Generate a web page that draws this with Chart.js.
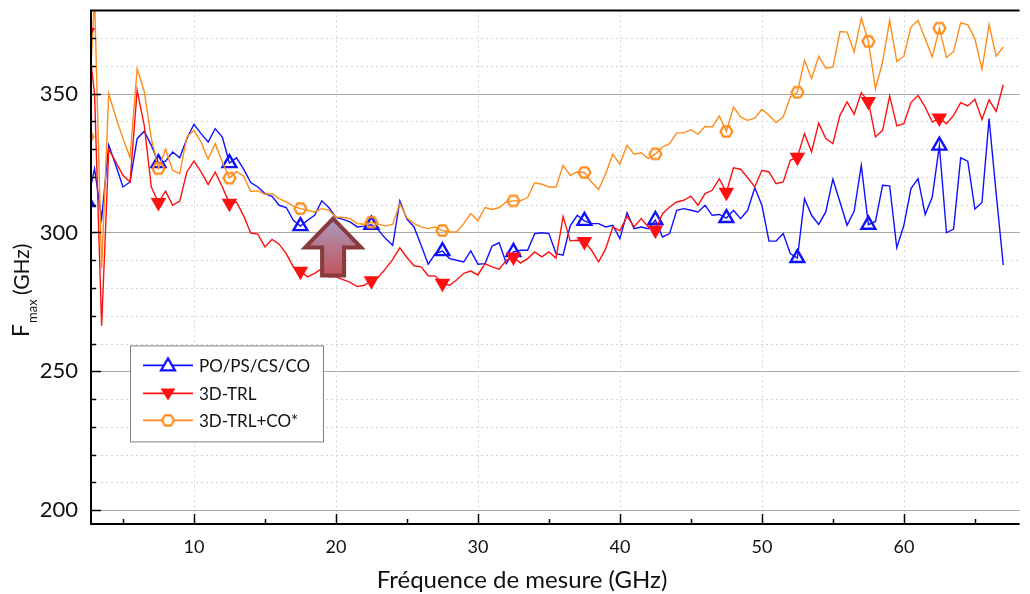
<!DOCTYPE html>
<html>
<head>
<meta charset="utf-8">
<script src="https://cdn.jsdelivr.net/npm/chart.js@4.4.0/dist/chart.umd.min.js"></script>
<style>
  html, body { margin: 0; padding: 0; background: #fff; }
  #wrap { width: 1030px; height: 594px; }
</style>
</head>
<body>
<div id="wrap"><canvas id="fmaxChart" width="1030" height="594"></canvas></div>
<script>
// frequencies (GHz), one row = 5 GHz
const freq = [
  2.5, 3, 3.5, 4, 4.5, 5, 5.5, 6, 6.5, 7,
  7.5, 8, 8.5, 9, 9.5, 10, 10.5, 11, 11.5, 12,
  12.5, 13, 13.5, 14, 14.5, 15, 15.5, 16, 16.5, 17,
  17.5, 18, 18.5, 19, 19.5, 20, 20.5, 21, 21.5, 22,
  22.5, 23, 23.5, 24, 24.5, 25, 25.5, 26, 26.5, 27,
  27.5, 28, 28.5, 29, 29.5, 30, 30.5, 31, 31.5, 32,
  32.5, 33, 33.5, 34, 34.5, 35, 35.5, 36, 36.5, 37,
  37.5, 38, 38.5, 39, 39.5, 40, 40.5, 41, 41.5, 42,
  42.5, 43, 43.5, 44, 44.5, 45, 45.5, 46, 46.5, 47,
  47.5, 48, 48.5, 49, 49.5, 50, 50.5, 51, 51.5, 52,
  52.5, 53, 53.5, 54, 54.5, 55, 55.5, 56, 56.5, 57,
  57.5, 58, 58.5, 59, 59.5, 60, 60.5, 61, 61.5, 62,
  62.5, 63, 63.5, 64, 64.5, 65, 65.5, 66, 66.5, 67
];

const poPsCsCo = [
  311, 323, 305, 331.4, 324.2, 316.4, 318.2, 333.8, 336.5, 331.4,
  325, 325.7, 329, 326.9, 333.8, 339, 335.6, 332.6, 337.4, 334.4,
  325, 326.9, 322.8, 318, 316.4, 314, 313, 309.8, 309, 304.4,
  302.3, 304.4, 306.2, 311.4, 309, 305.4, 304.7, 303.8, 302, 302.3,
  302.8, 300.8, 297.8, 295.4, 311.4, 304.8, 302, 295.4, 288.6, 292.4,
  293.3, 290.6, 290, 289.4, 293.4, 288.6, 288.8, 295.1, 296.3, 288.8,
  293, 293.6, 293.6, 299.6, 299.9, 299.6, 292.4, 291.8, 302.4, 306.2,
  304.2, 303.2, 303.2, 302, 302.6, 297.8, 307.1, 301.4, 302, 301.4,
  304.5, 298.4, 299.6, 308, 308.6, 308, 307.4, 309.8, 306.2, 306.5,
  305.2, 308, 305, 308, 316.1, 309.8, 296.9, 296.9, 299.6, 292.4,
  290.8, 312.2, 306.2, 302.9, 307.4, 319.2, 311, 302.6, 307.7, 324.2,
  302.8, 304, 317, 316.8, 294.5, 302.6, 315.8, 319.4, 306.5, 312.8,
  331.3, 299.9, 301.2, 326.9, 325.7, 308.4, 310.8, 341, 314, 288.3
];

const trl3d = [
  372, 350, 266.4, 330, 325.4, 320.6, 318.2, 351.2, 338.6, 316.4,
  310.8, 314.9, 309.8, 311.3, 321.8, 325.7, 321.8, 317.3, 321.8, 316.4,
  310.5, 311, 306, 299.8, 299.4, 294.8, 297.5, 295.8, 292.4, 287.6,
  286, 284, 285.3, 287, 284, 284, 283, 282, 280.5, 281,
  282.6, 284, 287, 290.3, 294.5, 291, 288, 287.6, 284.4, 284.3,
  281.7, 281, 282.9, 285.3, 286.1, 284.7, 288.8, 287.6, 286.8, 290,
  291.2, 289, 290.6, 293, 291.2, 293, 290.8, 305.7, 297, 297.2,
  296.8, 293.6, 289.4, 294.2, 302, 300.6, 305.9, 302, 305, 302,
  300.9, 306.8, 309.2, 311, 311.6, 313.1, 309.8, 314, 315.2, 319.4,
  314.5, 323.3, 322.8, 319.7, 316.4, 322.4, 321.8, 317.6, 318.2, 326,
  327.1, 335.6, 329, 339.4, 333.8, 332, 342.2, 347, 342.6, 350.4,
  347.2, 334.4, 336.8, 349.2, 338.4, 339.2, 346.8, 349.4, 345.2, 339.8,
  341.2, 339.2, 342.2, 346.8, 345.6, 348, 340.7, 347.8, 343.6, 353.2
];

const trl3dCo = [
  334.5, 385, 287, 350, 341.5, 334, 327, 359, 350.8, 333.8,
  323, 330, 322.4, 321.2, 334.4, 336.8, 332.6, 326.4, 332, 325.4,
  319.6, 322, 320.3, 314.8, 315, 313.8, 314, 312.2, 311, 309.5,
  308.6, 308, 307.4, 308.6, 308, 305.6, 305.4, 305, 303.2, 303,
  303.7, 303, 302.3, 303, 310.4, 305.3, 303.2, 302, 301.4, 302,
  300.7, 300.2, 300.2, 303.2, 306.8, 304.2, 309, 308.3, 309, 311,
  311.4, 311.4, 312.6, 317.9, 317.4, 316.4, 316.4, 324.2, 320.6, 321.8,
  321.6, 318.2, 315.5, 321.2, 328.2, 324.6, 331.4, 328.2, 328.7, 326.6,
  328.3, 330.8, 332, 335.9, 335.9, 337, 335.4, 338.2, 338, 342,
  336.4, 345.2, 341.6, 340.4, 341.2, 344.4, 342.2, 339.6, 341.6, 348.8,
  350.5, 362, 355.4, 363.5, 359.2, 359.6, 372.4, 372.2, 365, 377.2,
  368.8, 351.8, 361.4, 376.4, 361.6, 363.5, 374, 376.4, 369.8, 363.2,
  373.6, 363, 365.2, 375.5, 374.8, 369.8, 358.8, 374.9, 363.5, 366.8
];

const seriesNames = ['PO/PS/CS/CO', '3D-TRL', '3D-TRL+CO*'];
const xTicks = [10, 20, 30, 40, 50, 60];
const xMinorTicks = [5, 15, 25, 35, 45, 55, 65];
const yTicks = [200, 210, 220, 230, 240, 250, 260, 270, 280, 290, 300, 310, 320, 330, 340, 350, 360, 370];
const yLabels = [200, 250, 300, 350];
const xTitle = 'Fréquence de mesure (GHz)';

const FONT = 'Lato, "Open Sans", sans-serif';
const BLUE = '#1010ff';
const RED = '#ff1010';
const ORANGE = '#ff8c1a';
const MARK_EVERY = 10;

// small hexagon used as marker for the orange series
function hexMarker(color, r, lw) {
  const c = document.createElement('canvas');
  const s = Math.ceil(2 * r + lw + 2);
  c.width = s; c.height = s;
  const g = c.getContext('2d');
  g.beginPath();
  for (let k = 0; k < 6; k++) {
    const a = Math.PI / 3 * k;
    g.lineTo(s / 2 + r * Math.cos(a), s / 2 + r * Math.sin(a));
  }
  g.closePath();
  g.strokeStyle = color;
  g.lineWidth = lw;
  g.stroke();
  return c;
}
const hexImg = hexMarker(ORANGE, 6, 2.2);

function toPoints(values) {
  return freq.map((f, i) => ({ x: f, y: values[i] }));
}
function markerRadius(r) {
  return ctx => (ctx.dataIndex % MARK_EVERY === 0 ? r : 0);
}

// grid lines under the curves
const gridPlugin = {
  id: 'gridPlugin',
  beforeDatasetsDraw(chart) {
    const { ctx, chartArea: a, scales: { x, y } } = chart;
    ctx.save();
    ctx.lineWidth = 1;
    yTicks.forEach(v => {
      const py = Math.round(y.getPixelForValue(v)) + 0.5;
      if (v % 50 === 0) {
        ctx.strokeStyle = '#a8a8a8';
        ctx.setLineDash([]);
      } else {
        ctx.strokeStyle = '#d4d4d4';
        ctx.setLineDash([2, 3]);
      }
      ctx.beginPath(); ctx.moveTo(a.left, py); ctx.lineTo(a.right, py); ctx.stroke();
    });
    ctx.strokeStyle = '#d4d4d4';
    ctx.setLineDash([2, 3]);
    xTicks.forEach(v => {
      const px = Math.round(x.getPixelForValue(v)) + 0.5;
      ctx.beginPath(); ctx.moveTo(px, a.top); ctx.lineTo(px, a.bottom); ctx.stroke();
    });
    ctx.restore();
  }
};

// arrow, legend, axes, titles
const decorPlugin = {
  id: 'decorPlugin',
  afterDatasetsDraw(chart) {
    const { ctx, chartArea: a, scales: { x, y } } = chart;
    ctx.save();

    // arrow
    const cx = x.getPixelForValue(19.8);
    const ty = y.getPixelForValue(305);
    const grad = ctx.createLinearGradient(0, ty, 0, ty + 58);
    grad.addColorStop(0, '#a99bc0');
    grad.addColorStop(1, '#c4525a');
    ctx.beginPath();
    ctx.moveTo(cx, ty);
    ctx.lineTo(cx + 28, ty + 29);
    ctx.lineTo(cx + 11, ty + 29);
    ctx.lineTo(cx + 11, ty + 57);
    ctx.lineTo(cx - 11, ty + 57);
    ctx.lineTo(cx - 11, ty + 29);
    ctx.lineTo(cx - 28, ty + 29);
    ctx.closePath();
    ctx.fillStyle = grad;
    ctx.fill();
    ctx.lineJoin = 'miter';
    ctx.lineWidth = 4;
    ctx.strokeStyle = '#883a3c';
    ctx.stroke();

    // legend
    const lx = a.left + 39, ly = a.top + 335;
    ctx.fillStyle = '#fff';
    ctx.fillRect(lx, ly, 193, 96);
    ctx.lineWidth = 1;
    ctx.strokeStyle = '#808080';
    ctx.strokeRect(lx + 0.5, ly + 0.5, 193, 96);
    ctx.font = '17px ' + FONT;
    ctx.textBaseline = 'middle';
    const rows = [ly + 20, ly + 48, ly + 75];
    chart.data.datasets.forEach((ds, i) => {
      const ry = rows[i];
      ctx.strokeStyle = ds.borderColor;
      ctx.lineWidth = 1.6;
      ctx.beginPath(); ctx.moveTo(lx + 13, ry); ctx.lineTo(lx + 63, ry); ctx.stroke();
      const mx = lx + 38;
      if (i === 0) {
        ctx.lineWidth = 2.2;
        ctx.beginPath();
        ctx.moveTo(mx, ry - 7); ctx.lineTo(mx + 7, ry + 5); ctx.lineTo(mx - 7, ry + 5);
        ctx.closePath(); ctx.fillStyle = '#fff'; ctx.fill(); ctx.stroke();
      } else if (i === 1) {
        ctx.beginPath();
        ctx.moveTo(mx, ry + 7); ctx.lineTo(mx + 7.5, ry - 5); ctx.lineTo(mx - 7.5, ry - 5);
        ctx.closePath(); ctx.fillStyle = RED; ctx.fill();
      } else {
        ctx.fillStyle = '#fff';
        ctx.beginPath(); ctx.arc(mx, ry, 5, 0, Math.PI * 2); ctx.fill();
        ctx.drawImage(hexImg, mx - hexImg.width / 2, ry - hexImg.height / 2);
      }
      ctx.fillStyle = '#111';
      ctx.fillText(ds.label, lx + 69, ry + 1);
    });
    ctx.restore();
  },
  afterDraw(chart) {
    const { ctx, chartArea: a, scales: { x, y } } = chart;
    ctx.save();
    ctx.strokeStyle = '#000';
    ctx.lineWidth = 1.5;
    // ticks pointing inward
    yTicks.forEach(v => {
      const py = Math.round(y.getPixelForValue(v)) + 0.5;
      const len = v % 50 === 0 ? 10 : 5;
      ctx.beginPath(); ctx.moveTo(a.left, py); ctx.lineTo(a.left + len, py); ctx.stroke();
    });
    xTicks.forEach(v => {
      const px = Math.round(x.getPixelForValue(v)) + 0.5;
      ctx.beginPath(); ctx.moveTo(px, a.bottom); ctx.lineTo(px, a.bottom - 10); ctx.stroke();
    });
    xMinorTicks.forEach(v => {
      const px = Math.round(x.getPixelForValue(v)) + 0.5;
      ctx.beginPath(); ctx.moveTo(px, a.bottom); ctx.lineTo(px, a.bottom - 5); ctx.stroke();
    });
    // axis lines and top frame
    ctx.lineWidth = 2;
    ctx.beginPath();
    ctx.moveTo(a.right, a.top); ctx.lineTo(a.left, a.top);
    ctx.lineTo(a.left, a.bottom); ctx.lineTo(a.right, a.bottom);
    ctx.stroke();

    // x title
    ctx.fillStyle = '#111';
    ctx.font = '24px ' + FONT;
    ctx.textAlign = 'center';
    ctx.textBaseline = 'middle';
    ctx.fillText(xTitle, 522, 580);

    // y title with subscript
    ctx.translate(29, 337);
    ctx.rotate(-Math.PI / 2);
    ctx.textAlign = 'left';
    ctx.textBaseline = 'alphabetic';
    ctx.font = '23px ' + FONT;
    ctx.fillText('F', 0, 0);
    let off = ctx.measureText('F').width + 1;
    ctx.font = '13px ' + FONT;
    ctx.fillText('max', off, 8);
    ctx.font = '21px ' + FONT;
    ctx.fillText('(GHz)', 42, 0);
    ctx.restore();
  }
};

const chart = new Chart(document.getElementById('fmaxChart'), {
  type: 'line',
  data: {
    datasets: [
      {
        label: seriesNames[0],
        data: toPoints(poPsCsCo),
        borderColor: BLUE,
        borderWidth: 1.4,
        pointStyle: 'triangle',
        pointRadius: markerRadius(8),
        pointBorderWidth: 2.4,
        pointBorderColor: BLUE,
        pointBackgroundColor: 'rgba(255,255,255,0)',
        order: 2
      },
      {
        label: seriesNames[1],
        data: toPoints(trl3d),
        borderColor: RED,
        borderWidth: 1.4,
        pointStyle: 'triangle',
        pointRotation: 180,
        pointRadius: markerRadius(9),
        pointBorderWidth: 0,
        pointBackgroundColor: RED,
        order: 0
      },
      {
        label: seriesNames[2],
        data: toPoints(trl3dCo),
        borderColor: ORANGE,
        borderWidth: 1.4,
        pointStyle: hexImg,
        pointRadius: markerRadius(6),
        order: 1
      }
    ]
  },
  options: {
    responsive: false,
    animation: false,
    events: [],
    layout: { padding: { top: 10, right: 1, left: 0, bottom: 0 } },
    plugins: { legend: { display: false }, tooltip: { enabled: false } },
    scales: {
      x: {
        type: 'linear',
        min: 2.75,
        max: 68.15,
        afterBuildTicks: s => { s.ticks = xTicks.map(v => ({ value: v })); },
        afterFit: s => { s.height = 70; s.paddingLeft = 0; s.paddingRight = 0; },
        grid: { display: false, drawTicks: false },
        border: { display: false },
        ticks: { color: '#111', font: { family: FONT, size: 18 }, padding: 12, maxRotation: 0 }
      },
      y: {
        min: 195,
        max: 380,
        afterBuildTicks: s => { s.ticks = yLabels.map(v => ({ value: v })); },
        afterFit: s => { s.width = 91; s.paddingTop = 0; s.paddingBottom = 0; },
        grid: { display: false, drawTicks: false },
        border: { display: false },
        ticks: { color: '#111', font: { family: FONT, size: 22 }, padding: 13 }
      }
    }
  },
  plugins: [gridPlugin, decorPlugin]
});
</script>
</body>
</html>
